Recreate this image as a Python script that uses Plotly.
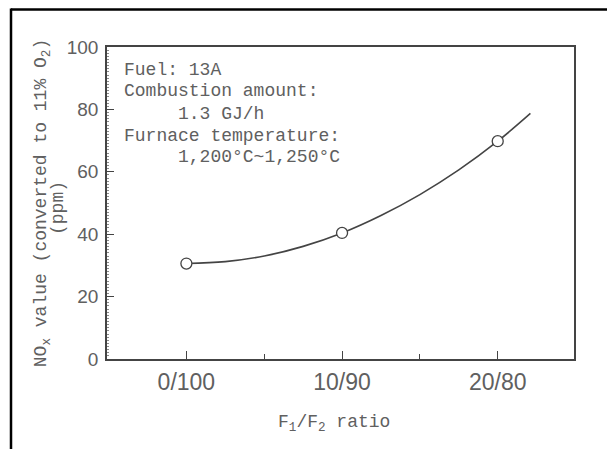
import plotly.graph_objects as go

# F1/F2 ratio categories and measured NOx values (ppm, converted to 11% O2)
categories = ["0/100", "10/90", "20/80"]
cat_pos = [0, 1, 2]
nox_ppm = [30.6, 40.4, 69.8]

# smooth trend curve through the measurements, extended past the last point
curve_x = [0, 0.25, 0.5, 0.75, 1.0, 1.25, 1.5, 1.75, 2.0, 2.21]
curve_y = [30.6, 31.2, 33.0, 36.1, 40.4, 46.0, 52.7, 60.6, 69.8, 78.7]

# condition notes shown inside the plot
notes = [
    "Fuel: 13A",
    "Combustion amount:",
    "     1.3 GJ/h",
    "Furnace temperature:",
    "     1,200°C~1,250°C",
]

W, H = 607, 449
L, R, T, B = 107, 33, 47, 90
PW, PH = W - L - R, H - T - B
XR = [-0.51, 2.49]
YR = [0, 100]


def px(x):
    return (x - L) / PW


def py(y):
    return (H - B - y) / PH


def data_x(x):
    return XR[0] + px(x) * (XR[1] - XR[0])


def data_y(y):
    return YR[0] + py(y) * (YR[1] - YR[0])


INK = "#444444"
TXT = "#606060"
MONO = "Liberation Mono"
SANS = "Liberation Sans"

fig = go.Figure()
fig.add_trace(go.Scatter(
    x=curve_x, y=curve_y, mode="lines",
    line=dict(color=INK, width=1.6, shape="spline", smoothing=1.0),
    hoverinfo="skip", showlegend=False,
))
fig.add_trace(go.Scatter(
    x=cat_pos, y=nox_ppm, mode="markers",
    marker=dict(symbol="circle", size=11, color="white",
                line=dict(color=INK, width=1.3)),
    showlegend=False,
))

# condition notes as a text layer, one line per row
note_rows = [70, 91.5, 114, 136, 157.5]
fig.add_trace(go.Scatter(
    x=[data_x(124) for _ in notes], y=[data_y(r) for r in note_rows],
    mode="text", text=[t.replace(" ", "&nbsp;") for t in notes],
    textposition="middle right",
    textfont=dict(family=MONO, size=18, color=TXT),
    hoverinfo="skip", showlegend=False,
))

annotations = [
    dict(text="(ppm)", x=px(58), y=py(208), xref="paper", yref="paper",
         xanchor="center", yanchor="middle", textangle=-90, showarrow=False,
         font=dict(family=MONO, size=18, color=TXT)),
    dict(text="F<sub>1</sub>/F<sub>2</sub> ratio", x=px(334), y=py(423),
         xref="paper", yref="paper", xanchor="center", yanchor="middle",
         showarrow=False, font=dict(family=MONO, size=18, color=TXT)),
]

# outer frame (top and left edges)
shapes = [
    dict(type="line", xref="paper", yref="paper",
         x0=px(11), x1=px(W + 5), y0=py(9.5), y1=py(9.5),
         line=dict(color="black", width=2.5)),
    dict(type="line", xref="paper", yref="paper",
         x0=px(11), x1=px(11), y0=py(8.5), y1=py(H + 5),
         line=dict(color="black", width=2.5)),
]

fig.update_layout(
    width=W, height=H,
    margin=dict(l=L, r=R, t=T, b=B, pad=0),
    paper_bgcolor="white", plot_bgcolor="white",
    annotations=annotations, shapes=shapes,
    xaxis=dict(
        range=XR, tickvals=cat_pos, ticktext=categories,
        ticks="inside", ticklen=8, tickwidth=1.2, tickcolor=INK,
        showline=True, linecolor=INK, linewidth=1.6, mirror=True,
        showgrid=False, zeroline=False,
        tickfont=dict(family=SANS, size=23, color=TXT),
        ticklabelstandoff=2,
        minor=dict(tickvals=[0.5, 1.5], ticks="inside", ticklen=5,
                   tickwidth=1.2, tickcolor=INK),
    ),
    yaxis=dict(
        range=YR, tickvals=[0, 20, 40, 60, 80, 100],
        ticks="inside", ticklen=7, tickwidth=1.2, tickcolor=INK,
        showline=True, linecolor=INK, linewidth=1.6, mirror=True,
        showgrid=False, zeroline=False,
        tickfont=dict(family=SANS, size=19, color=TXT),
        ticklabelstandoff=3,
        minor=dict(dtick=1, ticks="inside", ticklen=2, tickwidth=1,
                   tickcolor="#8a8a8a"),
        title=dict(
            text="NO<sub>x</sub> value (converted to 11% O<sub>2</sub>)",
            standoff=15, font=dict(family=MONO, size=18, color=TXT)),
    ),
)

fig.write_html("out.html")
